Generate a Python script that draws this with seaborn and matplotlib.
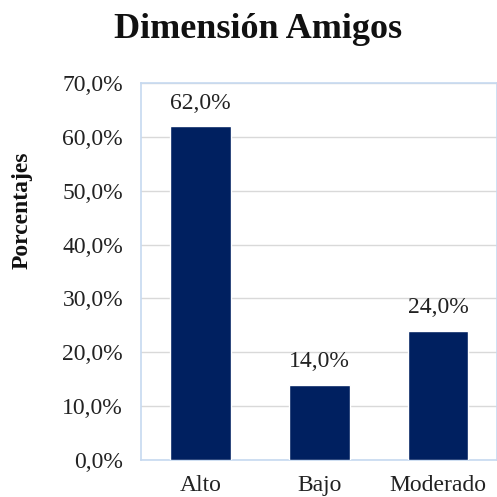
import matplotlib
matplotlib.use("Agg")
import matplotlib.pyplot as plt
import seaborn as sns
import pandas as pd

categorias = ["Alto", "Bajo", "Moderado"]
valores = [62.0, 14.0, 24.0]
ticks_y = [0, 10, 20, 30, 40, 50, 60, 70]

sns.set_style("white")
plt.rcParams["font.family"] = ["Liberation Serif", "DejaVu Serif"]

df = pd.DataFrame({"cat": categorias, "val": valores})

fig = plt.figure(figsize=(4.97, 4.97), dpi=100)
ax = fig.add_axes([0.284, 0.0744, 0.717, 0.7586])

sns.barplot(data=df, x="cat", y="val", color="#002060", saturation=1,
            width=0.51, ax=ax, zorder=3)

ax.set_ylim(0, 70)
ax.set_xlim(-0.5, 2.5)
ax.set_yticks(ticks_y)
ax.set_yticklabels([f"{t:.1f}%".replace(".", ",") for t in ticks_y])
ax.yaxis.grid(True, color="#d9d9d9", linewidth=1, zorder=0)
ax.tick_params(axis="both", length=0, labelsize=17, colors="#222222")
ax.tick_params(axis="y", pad=13)
ax.tick_params(axis="x", pad=11)
ax.set_xlabel("")
ax.set_ylabel("")
for s in ax.spines.values():
    s.set_color("#c6d9f0")
    s.set_linewidth(1.2)

for i, v in enumerate(valores):
    ax.annotate(f"{v:.1f}%".replace(".", ","), (i, v), xytext=(0, 9),
                textcoords="offset points", ha="center", va="bottom",
                fontsize=17, color="#222222")

fig.text(0.519, 0.94, "Dimensión Amigos", ha="center", va="center",
         fontsize=26, fontweight="bold", color="#111111")
fig.text(0.045, 0.577, "Porcentajes", ha="center", va="center",
         rotation=90, fontsize=17, fontweight="bold", color="#111111")

fig.savefig("out.png", dpi=100)
